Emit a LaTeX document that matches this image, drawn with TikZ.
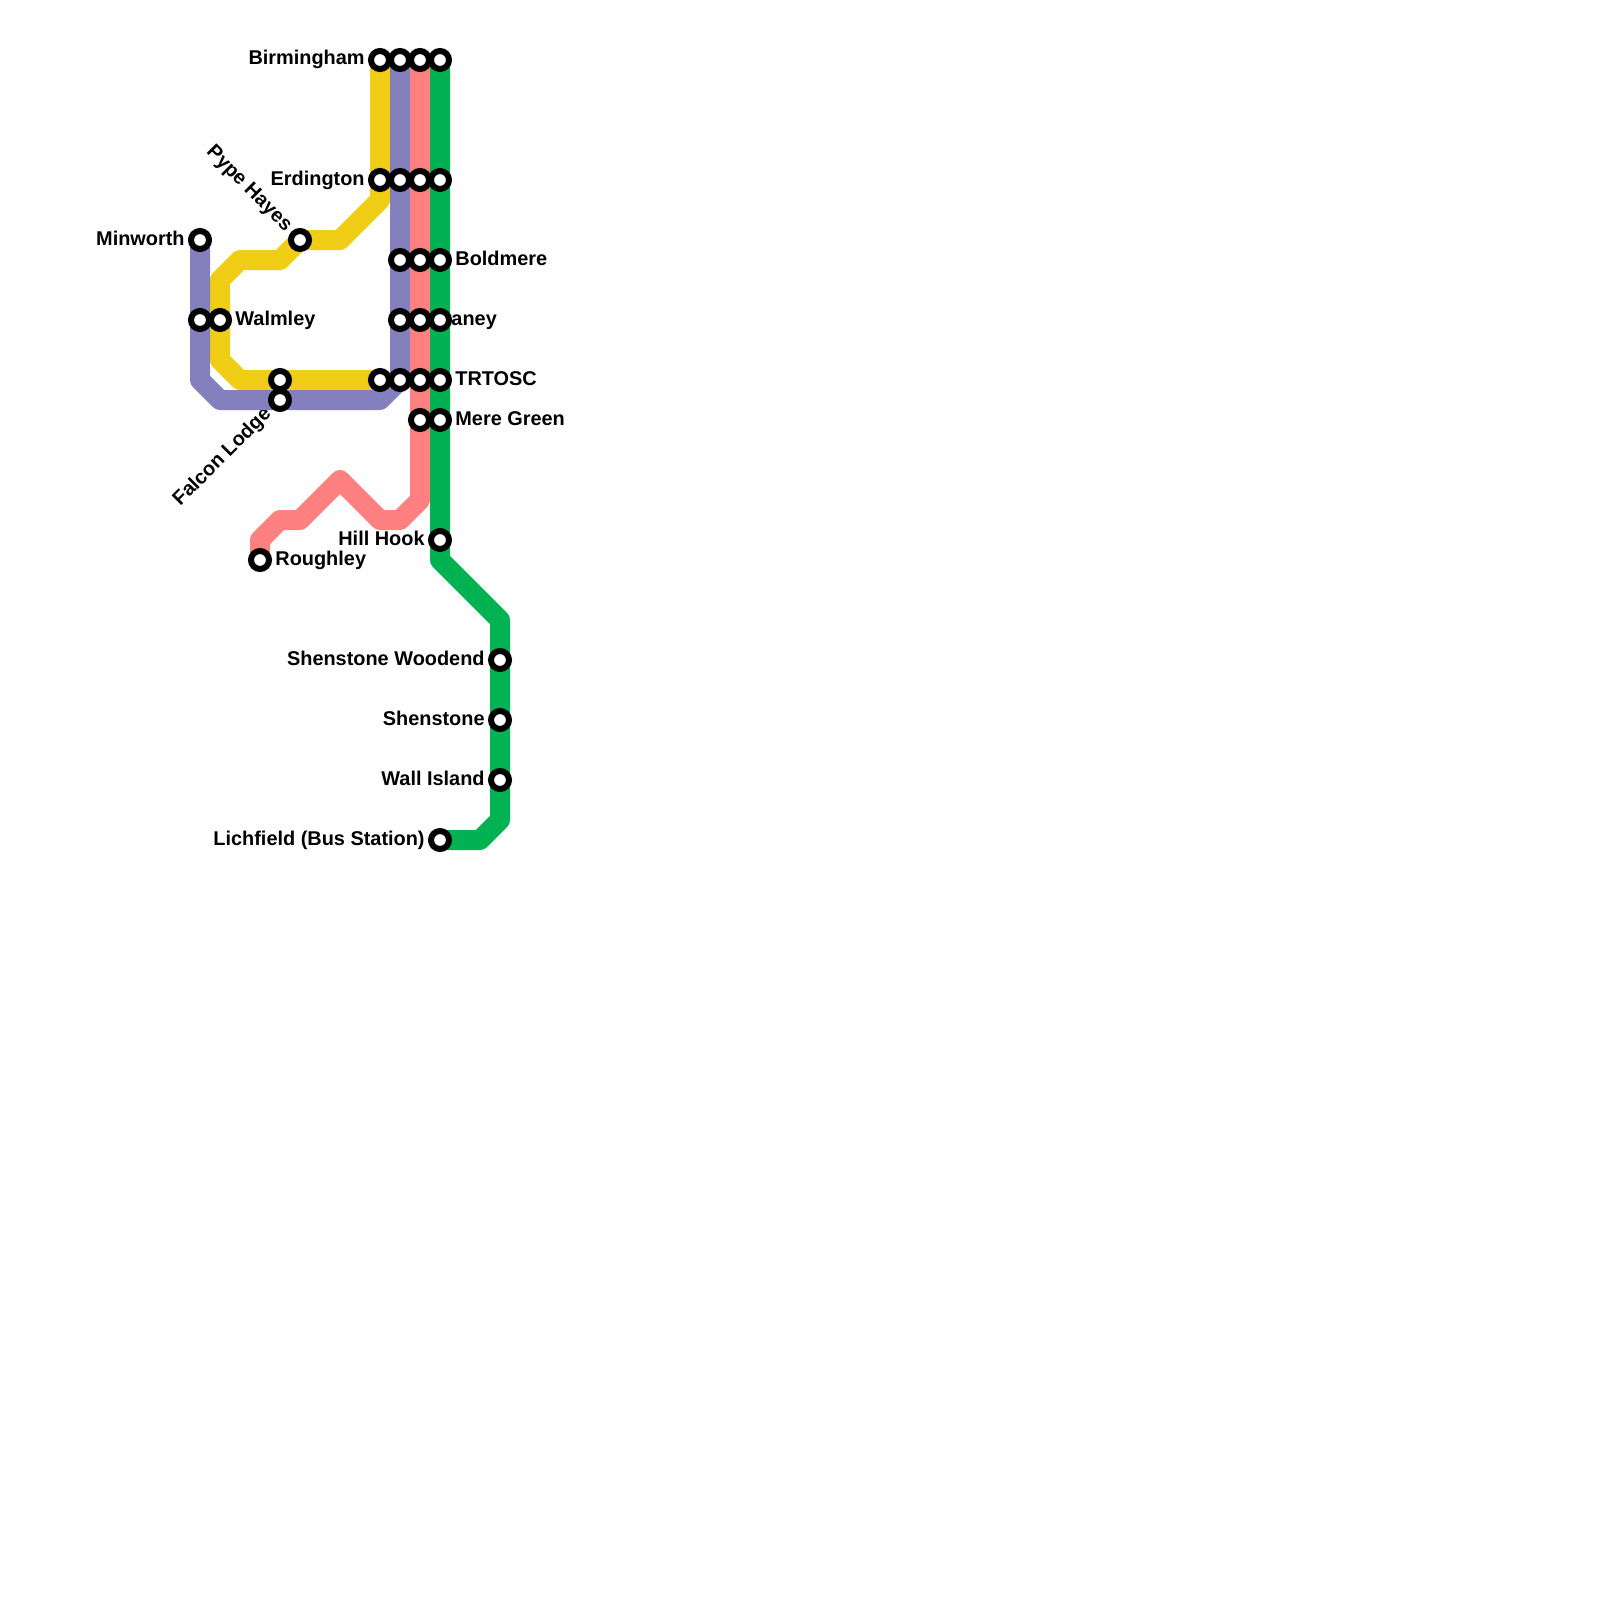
\documentclass[tikz,border=0pt]{standalone}
\usepackage{fontspec}
\setmainfont{Liberation Sans}
\definecolor{lineyellow}{HTML}{F0CE15}
\definecolor{lineblue}{HTML}{8380BD}
\definecolor{linepink}{HTML}{FF8080}
\definecolor{linegreen}{HTML}{00B251}
\tikzset{
  metro/.style={line width=10pt,line join=round,line cap=round},
  stn/.style={circle,draw=black,fill=white,line width=3pt,minimum size=9pt,inner sep=0pt,outer sep=0pt},
  lab/.style={font=\fontsize{9.95}{12}\selectfont\bfseries,inner sep=0pt,text=black},
  labr/.style={lab,anchor=base west},
  labl/.style={lab,anchor=base east}
}
\begin{document}
\begin{tikzpicture}[x=0.5pt,y=-0.5pt]
\useasboundingbox (0,0) rectangle (1600,1600);
\fill[white] (0,0) rectangle (1600,1600);
% labels lie beneath the lines
\node[labl] (lBirmingham) at (365,65) {Birmingham};
\node[labl] (lErdington) at (365,185) {Erdington};
\node[labl] (lMinworth) at (185,245) {Minworth};
\node[labr] (lWalmley) at (235,325) {Walmley};
\node[labr] (lBoldmere) at (455,265) {Boldmere};
\node[labr] (lJaney) at (440,325) {Janey};
\node[labr] (lTRTOSC) at (455,385) {TRTOSC};
\node[labr] (lMere) at (455,425) {Mere Green};
\node[labl] (lHill) at (425,545) {Hill Hook};
\node[labr] (lRoughley) at (275,565) {Roughley};
\node[labl] (lWoodend) at (485,665) {Shenstone Woodend};
\node[labl] (lShenstone) at (485,725) {Shenstone};
\node[labl] (lWall) at (485,785) {Wall Island};
\node[labl] (lLichfield) at (425,845) {Lichfield (Bus Station)};
\node[labl,rotate=-45] (lPype) at (285.2,232.2) {Pype Hayes};
\node[labl,rotate=45] (lFalcon) at (272.2,414.8) {Falcon Lodge};
% bends
\coordinate (y1) at (380,200);
\coordinate (y2) at (340,240);
\coordinate (y3) at (280,260);
\coordinate (y4) at (240,260);
\coordinate (y5) at (220,280);
\coordinate (y6) at (220,360);
\coordinate (y7) at (240,380);
\coordinate (b1) at (200,380);
\coordinate (b2) at (220,400);
\coordinate (b3) at (380,400);
\coordinate (p1) at (420,500);
\coordinate (p2) at (400,520);
\coordinate (p3) at (380,520);
\coordinate (p4) at (340,480);
\coordinate (p5) at (300,520);
\coordinate (p6) at (280,520);
\coordinate (p7) at (260,540);
\coordinate (g1) at (440,560);
\coordinate (g2) at (500,620);
\coordinate (g3) at (500,820);
\coordinate (g4) at (480,840);
\pgfdeclarelayer{stations}
\pgfsetlayers{main,stations}
\begin{pgfonlayer}{stations}
\node[stn] (sy1) at (380,60) {};
\node[stn] (sb1) at (400,60) {};
\node[stn] (sp1) at (420,60) {};
\node[stn] (sg1) at (440,60) {};
\node[stn] (sy2) at (380,180) {};
\node[stn] (sb2) at (400,180) {};
\node[stn] (sp2) at (420,180) {};
\node[stn] (sg2) at (440,180) {};
\node[stn] (sb3) at (400,260) {};
\node[stn] (sp3) at (420,260) {};
\node[stn] (sg3) at (440,260) {};
\node[stn] (sb4) at (400,320) {};
\node[stn] (sp4) at (420,320) {};
\node[stn] (sg4) at (440,320) {};
\node[stn] (sy3) at (380,380) {};
\node[stn] (sb5) at (400,380) {};
\node[stn] (sp5) at (420,380) {};
\node[stn] (sg5) at (440,380) {};
\node[stn] (sp6) at (420,420) {};
\node[stn] (sg6) at (440,420) {};
\node[stn] (sg7) at (440,540) {};
\node[stn] (sp7) at (260,560) {};
\node[stn] (sg8) at (500,660) {};
\node[stn] (sg9) at (500,720) {};
\node[stn] (sg10) at (500,780) {};
\node[stn] (sg11) at (440,840) {};
\node[stn] (sb6) at (200,240) {};
\node[stn] (sb7) at (200,320) {};
\node[stn] (sy4) at (220,320) {};
\node[stn] (sy5) at (300,240) {};
\node[stn] (sy6) at (280,380) {};
\node[stn] (sb8) at (280,400) {};
\end{pgfonlayer}
\draw[metro,lineyellow] (sy1.center) -- (sy2.center) -- (y1) -- (y2) -- (sy5.center) -- (y3) -- (y4) -- (y5) -- (sy4.center) -- (y6) -- (y7) -- (sy6.center) -- (sy3.center);
\draw[metro,lineblue] (sb6.center) -- (sb7.center) -- (b1) -- (b2) -- (sb8.center) -- (b3) -- (sb5.center) -- (sb4.center) -- (sb3.center) -- (sb2.center) -- (sb1.center);
\draw[metro,linepink] (sp1.center) -- (sp2.center) -- (sp3.center) -- (sp4.center) -- (sp5.center) -- (sp6.center) -- (p1) -- (p2) -- (p3) -- (p4) -- (p5) -- (p6) -- (p7) -- (sp7.center);
\draw[metro,linegreen] (sg1.center) -- (sg2.center) -- (sg3.center) -- (sg4.center) -- (sg5.center) -- (sg6.center) -- (sg7.center) -- (g1) -- (g2) -- (sg8.center) -- (sg9.center) -- (sg10.center) -- (g3) -- (g4) -- (sg11.center);
\end{tikzpicture}
\end{document}
